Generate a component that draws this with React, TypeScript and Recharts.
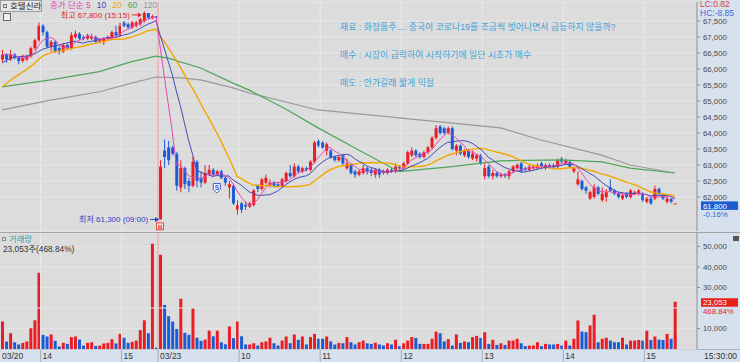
import React from 'react';
import { ComposedChart, Bar, Line, XAxis, YAxis, CartesianGrid, ReferenceLine, ReferenceDot, Cell } from 'recharts';

// ---------------- data ----------------
const STOCK_NAME = '호텔신라';
const SESSION_DATES = ['03/20', '03/23'];
const SESSION_STARTS = ['13:30', '09:00'];
const SESSION_BARS = [39, 128];
const EMPTY_SLOTS = 5;

const PRIOR_CLOSES = [64300, 64450, 64500, 64600, 64700, 64750, 64800, 64850, 64900, 65050, 65600, 65800, 65950, 66100, 66200, 66300, 66450, 66500, 66550];

const OPEN = [
  66300, 66450, 66300, 66450, 66350, 66250, 66300, 66400, 66650, 66900, 67350, 67150, 66700, 66850, 66650, 66550, 66750, 66650, 67000, 67100,
  67000, 66950, 66950, 67000, 66850, 66850, 66950, 66950, 67150, 67050, 67450, 67400, 67300, 67350, 67400, 67500, 67750, 67600, 67650,
  61300, 63450, 63550, 63550, 63350, 62300, 62900, 62500, 62350, 63100,
  62600, 62450, 62700, 62850, 62700, 62800, 62600, 62300, 62350, 61600,
  61800, 61750, 61700, 61750, 62350, 62250, 62450, 62350, 62450, 62400,
  62350, 62500, 62750, 62650, 62950, 62800, 62900, 62850, 63100, 63750,
  63700, 63450, 63450, 63250, 63150, 63300, 62900, 63000, 62800, 62700,
  62750, 62900, 62850, 62700, 62850, 62800, 62750, 62850, 62800, 62950,
  62900, 63050, 63300, 63450, 63350, 63250, 63400, 63550, 63850, 64200,
  64150, 64000, 64150, 63450, 63600, 63300, 63450, 63200, 63200, 63300,
  62650, 62950, 62650, 62750, 62650, 62700, 62650, 62800, 62900, 63050,
  62900, 62850, 62900, 62900, 63050, 62900, 63000, 63000, 62950, 63200,
  63050, 63100, 62800, 62400, 62500, 62300, 61950, 62000, 62300, 61900,
  62000, 62300, 62200, 62100, 61950, 62100, 62000, 62100, 62100, 62100,
  61850, 61950, 61950, 62250, 62050, 61850, 61950, 61800,
];
const HIGH = [
  66600, 66500, 66600, 66500, 66400, 66450, 66450, 66700, 66950, 67450, 67400, 67200, 66900, 66900, 66700, 66800, 66800, 67150, 67200, 67150,
  67050, 67100, 67100, 67050, 66950, 67000, 67050, 67200, 67350, 67450, 67500, 67450, 67500, 67500, 67600, 67800, 67750, 67700, 67650,
  63150, 63800, 63750, 63600, 63400, 63150, 62950, 62600, 63250, 63150,
  62800, 63000, 63000, 62900, 62850, 62850, 62650, 62500, 62400, 61900,
  61850, 61850, 61850, 62250, 62400, 62600, 62700, 62550, 62500, 62450,
  62600, 62800, 63000, 63050, 63000, 62950, 62950, 63150, 63750, 63800,
  63750, 63700, 63500, 63300, 63300, 63350, 63200, 63050, 62850, 62850,
  63000, 62950, 62900, 62900, 62900, 62850, 62900, 62900, 63050, 63000,
  63100, 63450, 63550, 63500, 63400, 63450, 63600, 63900, 64250, 64250,
  64200, 64200, 64200, 63650, 63650, 63500, 63500, 63450, 63350, 63350,
  63050, 63000, 62850, 62800, 62750, 62750, 62850, 63000, 63050, 63100,
  62950, 63000, 63000, 63050, 63100, 63050, 63050, 63050, 63200, 63250,
  63200, 63150, 62950, 62800, 62550, 62350, 62200, 62400, 62350, 62300,
  62250, 62550, 62250, 62150, 62100, 62150, 62250, 62200, 62250, 62150,
  62000, 62000, 62350, 62300, 62100, 62000, 61950, 61800,
];
const LOW = [
  66200, 66200, 66250, 66300, 66150, 66200, 66250, 66350, 66600, 66850, 67050, 66650, 66550, 66500, 66450, 66500, 66600, 66600, 66950, 66900,
  66900, 66900, 66900, 66800, 66800, 66750, 66900, 66900, 67000, 67000, 67300, 67250, 67250, 67300, 67350, 67450, 67550, 67550, 67600,
  61300, 62900, 63000, 63300, 62200, 62150, 62250, 62150, 62300, 62300,
  62300, 62400, 62650, 62650, 62650, 62550, 62350, 61950, 61750, 61450,
  61500, 61600, 61650, 61700, 62150, 62200, 62400, 62300, 62300, 62300,
  62300, 62450, 62600, 62600, 62750, 62750, 62800, 62800, 63050, 63550,
  63500, 63300, 63200, 63100, 63100, 63000, 62850, 62700, 62600, 62650,
  62700, 62700, 62650, 62600, 62600, 62700, 62700, 62750, 62750, 62850,
  62850, 63000, 63250, 63250, 63200, 63200, 63350, 63500, 63800, 63950,
  63950, 63950, 63450, 63300, 63300, 63250, 63200, 63150, 63100, 63000,
  62550, 62600, 62550, 62600, 62600, 62600, 62550, 62750, 62850, 62750,
  62800, 62800, 62850, 62850, 62900, 62850, 62900, 62900, 62900, 63050,
  63000, 62900, 62750, 62350, 62200, 62100, 61900, 61950, 62050, 61850,
  61850, 62150, 62050, 61950, 61900, 61950, 61950, 62050, 62050, 61850,
  61800, 61750, 61900, 62050, 61900, 61800, 61800, 61800,
];
const CLOSE = [
  66450, 66300, 66450, 66350, 66250, 66350, 66400, 66650, 66900, 67350, 67150, 66700, 66850, 66550, 66550, 66750, 66650, 67050, 67100, 66950,
  66950, 67050, 67000, 66850, 66900, 66950, 67000, 67150, 67050, 67350, 67350, 67300, 67450, 67450, 67550, 67750, 67600, 67650, 67600,
  62950, 63250, 63150, 63350, 62350, 62900, 62400, 62350, 63100, 62500,
  62450, 62750, 62850, 62700, 62800, 62600, 62450, 62400, 61800, 61750,
  61600, 61700, 61800, 62200, 62250, 62550, 62600, 62450, 62350, 62350,
  62550, 62750, 62650, 62950, 62800, 62900, 62850, 63100, 63700, 63600,
  63550, 63650, 63250, 63150, 63250, 63050, 63050, 62750, 62700, 62800,
  62900, 62800, 62750, 62850, 62700, 62750, 62850, 62800, 62950, 62900,
  63050, 63400, 63450, 63300, 63250, 63400, 63550, 63850, 64150, 64000,
  64000, 64150, 63500, 63600, 63350, 63450, 63250, 63350, 63300, 63050,
  62900, 62650, 62750, 62650, 62700, 62650, 62800, 62950, 63000, 62800,
  62850, 62950, 62950, 63000, 62950, 63000, 62950, 62950, 63150, 63100,
  63150, 62950, 62900, 62550, 62250, 62200, 62150, 62300, 62100, 62100,
  62150, 62200, 62100, 62000, 62050, 62000, 62200, 62150, 62200, 61900,
  61950, 61800, 62250, 62100, 61950, 61950, 61850, 61800,
];
const VOLUME = [
  13400, 3700, 7700, 3300, 2200, 3000, 3700, 10100, 14000, 37200, 6900, 6100, 7100, 4000, 1200, 3000, 2500, 5800, 6100, 4600,
  1700, 3000, 3300, 1500, 1700, 2700, 3000, 4800, 2700, 7400, 5500, 3000, 3500, 4100, 9200, 14000, 7700, 51300, 700,
  46000, 21500, 16000, 13400, 9800, 24500, 7900, 6900, 19900, 5500,
  4000, 4600, 9000, 6200, 8900, 3300, 2300, 11000, 5300, 13400,
  6200, 2200, 2200, 2800, 1700, 3300, 3700, 5500, 2800, 1700,
  4100, 6100, 2800, 7100, 4500, 6100, 2200, 5800, 7400, 5000,
  5000, 6100, 3700, 2200, 3000, 2800, 5800, 3300, 2200, 3300,
  4100, 2800, 2500, 3100, 2200, 1700, 2800, 2200, 4500, 1400,
  2800, 4100, 5800, 5400, 2500, 2500, 2500, 5000, 8500, 7700,
  3700, 4800, 1700, 7100, 3000, 3700, 3300, 5800, 6400, 5400,
  8200, 2500, 4500, 2000, 2800, 2000, 4100, 4100, 5000, 2800,
  1400, 1700, 1700, 3300, 1400, 2500, 2200, 2200, 2500, 1700,
  4100, 1700, 5000, 13900, 8500, 8200, 11500, 16700, 3300, 5000,
  5500, 4100, 3300, 3300, 5500, 2200, 4100, 4100, 4400, 4100,
  8900, 4400, 6100, 4600, 4400, 7400, 5000, 23053,
];

// long moving averages at a few bars
const MA60_AT = [0, 12, 24, 32, 38, 41, 49, 57, 61, 70, 78, 88, 98, 111, 123, 138, 148, 155, 166];
const MA60_VAL = [65440, 65660, 65920, 66230, 66400, 66340, 66030, 65560, 65340, 64750, 64160, 63470, 62790, 62950, 63130, 63160, 63100, 62900, 62750];
const MA120_AT = [0, 12, 24, 32, 38, 44, 49, 57, 61, 78, 98, 123, 133, 148, 155, 166];
const MA120_VAL = [64720, 65030, 65290, 65560, 65750, 65720, 65660, 65410, 65250, 64720, 64470, 64160, 63780, 63310, 63000, 62750];

const PRICE_TICKS = [62000, 62500, 63000, 63500, 64000, 64500, 65000, 65500, 66000, 66500, 67000, 67500];
const VOLUME_TICKS = [10000, 30000, 40000, 50000];
const VOLUME_HIDDEN_GRID = 20000;
const PRICE_DOMAIN = [60937.5, 68093.75];
const VOLUME_DOMAIN = [0, 56585];

const SELL_BAR = 53;
const SELL_LEVEL = 62280;
const CHANGE_LABEL = '-0.16%';
const VOLUME_RATIO_LABEL = '468.84%';
const LAST_TIME_LABEL = '15:30:00';
const NOTES = [
  '재료 : 화장품주.... 중국이 코로나19를 조금씩 벗어나면서 급등하지 않을까?',
  '매수 : 시장이 급락하여 시작하기에 일단 시초가 매수',
  '매도 : 안가길래 짧게 익절',
];

// ---------------- styles ----------------
const NUM_FONT = "'Liberation Sans', Arial, sans-serif";
const KR_FONT = "'Liberation Sans', 'Noto Sans CJK KR', sans-serif";
const UP = '#ec1c24';
const DOWN = '#1b5cd6';
const MA5_C = '#e447b8';
const MA10_C = '#3d4db6';
const MA20_C = '#f3a600';
const MA60_C = '#4ea65a';
const MA120_C = '#999999';
const PLOT_BG = '#dcdcdc';
const PANEL_BG = '#d7e1ee';
const GRID_C = '#e6e6e6';
const SIGNAL_C = '#eba2a2';

// ---------------- rows ----------------
const toMin = (s: string) => { const [h, m] = s.split(':').map(Number); return h * 60 + m; };
const fmtTime = (m: number) => `${String(Math.floor(m / 60)).padStart(2, '0')}:${String(m % 60).padStart(2, '0')}`;
const ALL_CLOSES = [...PRIOR_CLOSES, ...CLOSE];
const sma = (n: number, i: number) => {
  const end = i + PRIOR_CLOSES.length;
  const start = end - n + 1;
  if (start < 0) return null;
  let s = 0;
  for (let k = start; k <= end; k++) s += ALL_CLOSES[k];
  return s / n;
};

type Row = any;
const rows: Row[] = [];
let barIdx = 0;
SESSION_DATES.forEach((date, s) => {
  const start = toMin(SESSION_STARTS[s]);
  for (let k = 0; k < SESSION_BARS[s]; k++, barIdx++) {
    const time = fmtTime(start + 3 * k);
    rows.push({
      cat: `${date} ${time}`, date, time, first: k === 0,
      o: OPEN[barIdx], h: HIGH[barIdx], l: LOW[barIdx], c: CLOSE[barIdx],
      range: [LOW[barIdx], HIGH[barIdx]], vol: VOLUME[barIdx],
      ma5: sma(5, barIdx), ma10: sma(10, barIdx), ma20: sma(20, barIdx), ma60: null, ma120: null,
    });
  }
});
MA60_AT.forEach((i, k) => { rows[i].ma60 = MA60_VAL[k]; });
MA120_AT.forEach((i, k) => { rows[i].ma120 = MA120_VAL[k]; });
const N_BARS = rows.length;
for (let p = 0; p < EMPTY_SLOTS; p++) rows.push({ cat: `pad${p}` });
const ROW_BY_CAT: Record<string, Row> = {};
rows.forEach((r) => { ROW_BY_CAT[r.cat] = r; });

const HOUR_CATS = rows.filter((r) => r.date && (r.first || r.time.endsWith(':00'))).map((r) => r.cat);
const DAY2_CAT = rows.find((r) => r.date === SESSION_DATES[1] && r.first).cat;

let hiIdx = 0, loIdx = 0;
for (let i = 0; i < N_BARS; i++) {
  if (HIGH[i] > HIGH[hiIdx]) hiIdx = i;
  if (LOW[i] < LOW[loIdx]) loIdx = i;
}
const LAST = CLOSE[N_BARS - 1];
const LAST_VOL = VOLUME[N_BARS - 1];
const LC = ((LAST - LOW[loIdx]) / LOW[loIdx]) * 100;
const HC = ((LAST - HIGH[hiIdx]) / HIGH[hiIdx]) * 100;
const fmt = (v: number) => v.toLocaleString('en-US');

// ---------------- shapes ----------------
const Candle = (props: any) => {
  const { x, y, width, height, payload } = props;
  if (!payload || payload.o == null) return null;
  const { o, h, l, c } = payload;
  const top = Math.min(y, y + height);
  const hh = Math.abs(height);
  const color = c >= o ? UP : DOWN;
  const cx = x + width / 2;
  const py = (v: number) => (h === l ? top : top + ((h - v) / (h - l)) * hh);
  const bt = py(Math.max(o, c));
  const bb = py(Math.min(o, c));
  return (
    <g>
      <line x1={cx} x2={cx} y1={top} y2={top + hh} stroke={color} strokeWidth={1} />
      <rect x={x} y={bt} width={width} height={Math.max(1, bb - bt)} fill={color} />
    </g>
  );
};

const HighMark = (p: any) => {
  const { cx, cy } = p;
  return (
    <g>
      <text x={cx - 14} y={cy + 6.5} textAnchor="end" fill="#e0262c" fontSize={8} fontFamily={KR_FONT}>
        {`최고 ${fmt(HIGH[hiIdx])} (${rows[hiIdx].time})`}
      </text>
      <line x1={cx - 12} y1={cy + 3.5} x2={cx - 5} y2={cy + 3.5} stroke="#e0262c" strokeWidth={1} />
      <path d={`M${cx - 2} ${cy + 3.5} L${cx - 6} ${cy + 1} L${cx - 6} ${cy + 6} Z`} fill="#e0262c" />
    </g>
  );
};

const LowMark = (p: any) => {
  const { cx, cy } = p;
  return (
    <g>
      <text x={cx - 12} y={cy + 3} textAnchor="end" fill="#2e3cc8" fontSize={8} fontFamily={KR_FONT}>
        {`최저 ${fmt(LOW[loIdx])} (${rows[loIdx].time})`}
      </text>
      <line x1={cx - 10} y1={cy} x2={cx - 4} y2={cy} stroke="#2e3cc8" strokeWidth={1} />
      <path d={`M${cx - 1} ${cy} L${cx - 5} ${cy - 2.5} L${cx - 5} ${cy + 2.5} Z`} fill="#2e3cc8" />
      <rect x={cx - 3.5} y={cy + 3.5} width={7} height={7} fill="#f4e4e4" stroke="#e0262c" strokeWidth={0.8} />
      <text x={cx} y={cy + 9.3} textAnchor="middle" fill="#e0262c" fontSize={6} fontWeight="bold" fontFamily={NUM_FONT}>B</text>
    </g>
  );
};

const SellMark = (p: any) => {
  const { cx, cy } = p;
  const d = `M${cx - 3.5} ${cy - 4.5} L${cx + 3.5} ${cy - 4.5} L${cx + 3.5} ${cy + 1.5} L${cx} ${cy + 5} L${cx - 3.5} ${cy + 1.5} Z`;
  return (
    <g>
      <path d={d} fill="#ffffff" stroke="#3346d0" strokeWidth={0.9} />
      <text x={cx} y={cy + 2} textAnchor="middle" fill="#3346d0" fontSize={6.5} fontWeight="bold" fontFamily={NUM_FONT}>S</text>
    </g>
  );
};

const SideBox = (props: any) => {
  const { viewBox, text, sub, bg, subColor, shift = 0 } = props;
  if (!viewBox) return null;
  const bx = viewBox.x + viewBox.width + 4;
  const y = viewBox.y + shift;
  return (
    <g>
      <rect x={bx} y={y - 3.5} width={37} height={8.5} fill={bg} />
      <text x={bx + 2} y={y + 3.6} fill="#ffffff" fontSize={7.8} fontFamily={NUM_FONT}>{text}</text>
      <text x={bx + 2} y={y + 12.5} fill={subColor} fontSize={7.8} fontFamily={NUM_FONT}>{sub}</text>
    </g>
  );
};

const TimeTick = (props: any) => {
  const { x, y, payload } = props;
  const row = ROW_BY_CAT[payload.value];
  if (!row) return null;
  const label = row.first ? row.date : String(Number(row.time.slice(0, 2)));
  const left = x - 2;
  return (
    <g>
      {!(row.first && row.date === SESSION_DATES[0]) && (
        <line x1={left} x2={left} y1={y + 1} y2={y + 13} stroke="#a3adba" strokeWidth={1} />
      )}
      <text x={left + 2} y={y + 10} fontSize={8.5} fill="#333333" fontFamily={NUM_FONT}>{label}</text>
    </g>
  );
};

const axisTick = { fontSize: 7.8, fill: '#4a4a4a', fontFamily: NUM_FONT };
const overlay = (left: number, top: number, extra: React.CSSProperties = {}): React.CSSProperties => ({
  position: 'absolute', left, top, lineHeight: '9px', whiteSpace: 'nowrap', ...extra,
});

export default function App() {
  const hourLines = (chartKey: string) =>
    HOUR_CATS.filter((c) => c !== rows[0].cat).map((c) => (
      <ReferenceLine key={`${chartKey}-${c}`} x={c} position="start" stroke="#eaeaea" strokeWidth={1} />
    ));

  return (
    <div style={{ position: 'fixed', left: 0, top: 0, width: 740, height: 362, background: PANEL_BG, overflow: 'hidden', fontFamily: NUM_FONT }}>
      <div style={{ position: 'absolute', left: 0, top: 0, width: 697, height: 232, background: PLOT_BG }} />
      <div style={{ position: 'absolute', left: 0, top: 232, width: 740, height: 1, background: '#a2a2a2' }} />
      <div style={{ position: 'absolute', left: 0, top: 233, width: 697, height: 116, background: PLOT_BG }} />
      <div style={{ position: 'absolute', left: 0, top: 349, width: 740, height: 13, background: PANEL_BG, borderTop: '1px solid #a9b2be', boxSizing: 'border-box' }} />

      {/* price panel */}
      <div style={{ position: 'absolute', left: 0, top: 0 }}>
        <ComposedChart width={740} height={232} data={rows} margin={{ top: 2, right: 0, bottom: 1, left: 0 }}>
          <CartesianGrid vertical={false} stroke={GRID_C} />
          <XAxis dataKey="cat" hide />
          <YAxis
            orientation="right" width={43} domain={PRICE_DOMAIN} ticks={PRICE_TICKS} interval={0}
            allowDataOverflow tickFormatter={fmt} tick={axisTick} tickSize={3} tickMargin={3}
            axisLine={{ stroke: '#8e8e8e' }} tickLine={{ stroke: '#8e8e8e' }}
          />
          {hourLines('p')}
          <ReferenceLine x={DAY2_CAT} position="start" stroke={SIGNAL_C} strokeWidth={1.2} />
          <Bar dataKey="range" barSize={3} shape={<Candle />} isAnimationActive={false} />
          <Line type="linear" dataKey="ma120" stroke={MA120_C} strokeWidth={1.2} dot={false} activeDot={false} connectNulls isAnimationActive={false} />
          <Line type="linear" dataKey="ma60" stroke={MA60_C} strokeWidth={1.2} dot={false} activeDot={false} connectNulls isAnimationActive={false} />
          <Line type="linear" dataKey="ma20" stroke={MA20_C} strokeWidth={1.4} dot={false} activeDot={false} isAnimationActive={false} />
          <Line type="linear" dataKey="ma10" stroke={MA10_C} strokeWidth={1} dot={false} activeDot={false} isAnimationActive={false} />
          <Line type="linear" dataKey="ma5" stroke={MA5_C} strokeWidth={1} dot={false} activeDot={false} isAnimationActive={false} />
          <ReferenceDot x={rows[hiIdx].cat} y={HIGH[hiIdx]} r={0} shape={(p: any) => <HighMark {...p} />} />
          <ReferenceDot x={rows[loIdx].cat} y={LOW[loIdx]} r={0} shape={(p: any) => <LowMark {...p} />} />
          <ReferenceDot x={rows[SELL_BAR].cat} y={SELL_LEVEL} r={0} shape={(p: any) => <SellMark {...p} />} />
          <ReferenceLine
            y={LAST} stroke="none"
            label={(p: any) => <SideBox {...p} shift={1.5} text={fmt(LAST)} sub={CHANGE_LABEL} bg="#1a5dcf" subColor="#2b66d8" />}
          />
        </ComposedChart>
      </div>

      {/* volume panel */}
      <div style={{ position: 'absolute', left: 0, top: 233 }}>
        <ComposedChart width={740} height={129} data={rows} margin={{ top: 0, right: 0, bottom: 0, left: 0 }}>
          <CartesianGrid vertical={false} stroke={GRID_C} />
          <XAxis dataKey="cat" ticks={HOUR_CATS} interval={0} height={13} axisLine={false} tickLine={false} tickSize={0} tickMargin={0} tick={<TimeTick />} />
          <YAxis
            orientation="right" width={43} domain={VOLUME_DOMAIN} ticks={VOLUME_TICKS} interval={0}
            allowDataOverflow tickFormatter={fmt} tick={axisTick} tickSize={3} tickMargin={3}
            axisLine={{ stroke: '#8e8e8e' }} tickLine={{ stroke: '#8e8e8e' }}
          />
          <ReferenceLine y={VOLUME_HIDDEN_GRID} stroke={GRID_C} />
          {hourLines('v')}
          <ReferenceLine x={DAY2_CAT} position="start" stroke={SIGNAL_C} strokeWidth={1.2} />
          <Bar dataKey="vol" barSize={3} isAnimationActive={false}>
            {rows.map((r, i) => (
              <Cell key={i} fill={r.c >= r.o ? UP : DOWN} />
            ))}
          </Bar>
          <ReferenceLine
            y={LAST_VOL} stroke="none"
            label={(p: any) => <SideBox {...p} text={fmt(LAST_VOL)} sub={VOLUME_RATIO_LABEL} bg="#e8201e" subColor="#e8201e" />}
          />
        </ComposedChart>
      </div>

      {/* header / legend */}
      <div style={{ position: 'absolute', left: 0, top: 0, width: 42, height: 12, background: '#e6e6e6', border: '1px solid #9c9c9c', boxSizing: 'border-box' }}>
        <div style={{ position: 'absolute', left: 2, top: 3, width: 4, height: 4, border: '1px solid #777', boxSizing: 'border-box' }} />
        <div style={overlay(9, 0.5, { fontFamily: KR_FONT, fontSize: 8.5, color: '#222' })}>{STOCK_NAME}</div>
      </div>
      <div style={{ position: 'absolute', left: 3, top: 13, width: 8, height: 8, border: '1px solid #666', background: '#f0f0f0', boxSizing: 'border-box' }} />
      <div style={overlay(50, 0.5, { fontFamily: KR_FONT, fontSize: 8.5 })}>
        <span style={{ color: MA5_C }}>종가 단순 5</span>
        <span style={{ color: MA10_C, marginLeft: 6 }}>10</span>
        <span style={{ color: MA20_C, marginLeft: 6 }}>20</span>
        <span style={{ color: MA60_C, marginLeft: 6 }}>60</span>
        <span style={{ color: MA120_C, marginLeft: 6 }}>120</span>
      </div>

      {/* memo */}
      {NOTES.map((t, i) => (
        <div key={i} style={overlay(340, 22.5 + i * 28, { fontFamily: KR_FONT, fontSize: 8.9, color: '#3fa3da' })}>{t}</div>
      ))}

      {/* right top */}
      <div style={overlay(700, 0, { fontSize: 8.5, color: '#e0393a' })}>{`LC:${LC.toFixed(2)}`}</div>
      <div style={overlay(700, 8.5, { fontSize: 8.5, color: '#3a6ad8' })}>{`HC:${HC.toFixed(2)}`}</div>

      {/* volume header */}
      <div style={{ position: 'absolute', left: 2, top: 237, width: 4, height: 4, border: '1px solid #8a8a8a', boxSizing: 'border-box' }} />
      <div style={overlay(9, 234.5, { fontFamily: KR_FONT, fontSize: 8.3, color: '#3a9fa6' })}>거래량</div>
      <div style={overlay(3, 245, { fontFamily: KR_FONT, fontSize: 8.3, color: '#333' })}>{`${fmt(LAST_VOL)}주(${VOLUME_RATIO_LABEL})`}</div>
      <div style={{ position: 'absolute', left: 733, top: 236, width: 6, height: 5, background: '#555' }} />

      <div style={overlay(704, 351.5, { fontSize: 8.5, color: '#333' })}>{LAST_TIME_LABEL}</div>
    </div>
  );
}
